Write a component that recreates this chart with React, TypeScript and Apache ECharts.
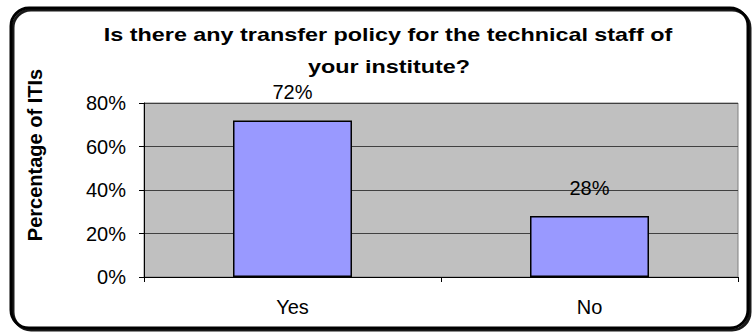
import React, { useEffect, useRef } from "react";
import * as echarts from "echarts";

const categories = ["Yes", "No"];
const values = [72, 28];
const yTicks = [0, 20, 40, 60, 80];
const titleLines = ["Is there any transfer policy for the technical staff of", "your institute?"];

export default function App() {
  const ref = useRef<HTMLDivElement>(null);
  useEffect(() => {
    const chart = echarts.init(ref.current!, null, { renderer: "svg" });
    const titleStyle = {
      fontSize: 19,
      fontWeight: "bold",
      fontFamily: "Liberation Sans, Arial, sans-serif",
      fill: "#000",
      align: "center",
      verticalAlign: "middle",
    };
    chart.setOption({
      animation: false,
      backgroundColor: "#ffffff",
      textStyle: { fontFamily: "Liberation Sans, Arial, sans-serif" },
      graphic: [
        {
          type: "text",
          x: 388,
          y: 35,
          scaleX: 1.23,
          style: { ...titleStyle, text: titleLines[0] },
          silent: true,
        },
        {
          type: "text",
          x: 389,
          y: 67,
          scaleX: 1.23,
          style: { ...titleStyle, text: titleLines[1] },
          silent: true,
        },
        {
          type: "rect",
          shape: { x: 11, y: 8, width: 737, height: 320, r: 18 },
          style: { fill: "none", stroke: "#000", lineWidth: 3, shadowColor: "rgba(0,0,0,0.9)", shadowOffsetX: 2, shadowOffsetY: 2, shadowBlur: 0 },
          silent: true,
          z: 100,
        },
      ],
      grid: {
        left: 144,
        right: 15,
        top: 103,
        bottom: 56,
        show: true,
        backgroundColor: "#C0C0C0",
        borderColor: "#808080",
        borderWidth: 1,
      },
      xAxis: {
        type: "category",
        data: categories,
        axisLine: { lineStyle: { color: "#000", width: 1 } },
        axisTick: { show: true, alignWithLabel: false, length: 5, lineStyle: { color: "#000" } },
        axisLabel: { fontSize: 20, color: "#000", margin: 20 },
      },
      yAxis: {
        type: "value",
        min: 0,
        max: 80,
        interval: 20,
        name: "Percentage of ITIs",
        nameLocation: "middle",
        nameGap: 99,
        nameRotate: 90,
        nameTextStyle: { fontSize: 20, fontWeight: "bold", color: "#000", padding: [0, 0, 0, 70] },
        axisLine: { show: true, lineStyle: { color: "#000", width: 1 } },
        axisTick: { show: true, length: 5, lineStyle: { color: "#000" } },
        axisLabel: {
          fontSize: 20,
          color: "#000",
          margin: 18,
          formatter: (v: number) => (yTicks.includes(v) ? v + "%" : ""),
        },
        splitLine: { show: true, lineStyle: { color: "#404040", width: 1 } },
      },
      series: [
        {
          type: "bar",
          data: values,
          barWidth: 119,
          itemStyle: { color: "#9999FF", borderColor: "#000", borderWidth: 1.5 },
          label: {
            show: true,
            position: "top",
            distance: 18,
            fontSize: 20,
            color: "#000",
            formatter: (p: any) => p.value + "%",
          },
        },
      ],
    });
    return () => chart.dispose();
  }, []);
  return <div ref={ref} style={{ width: 753, height: 333, position: "absolute", left: 0, top: 0 }} />;
}
